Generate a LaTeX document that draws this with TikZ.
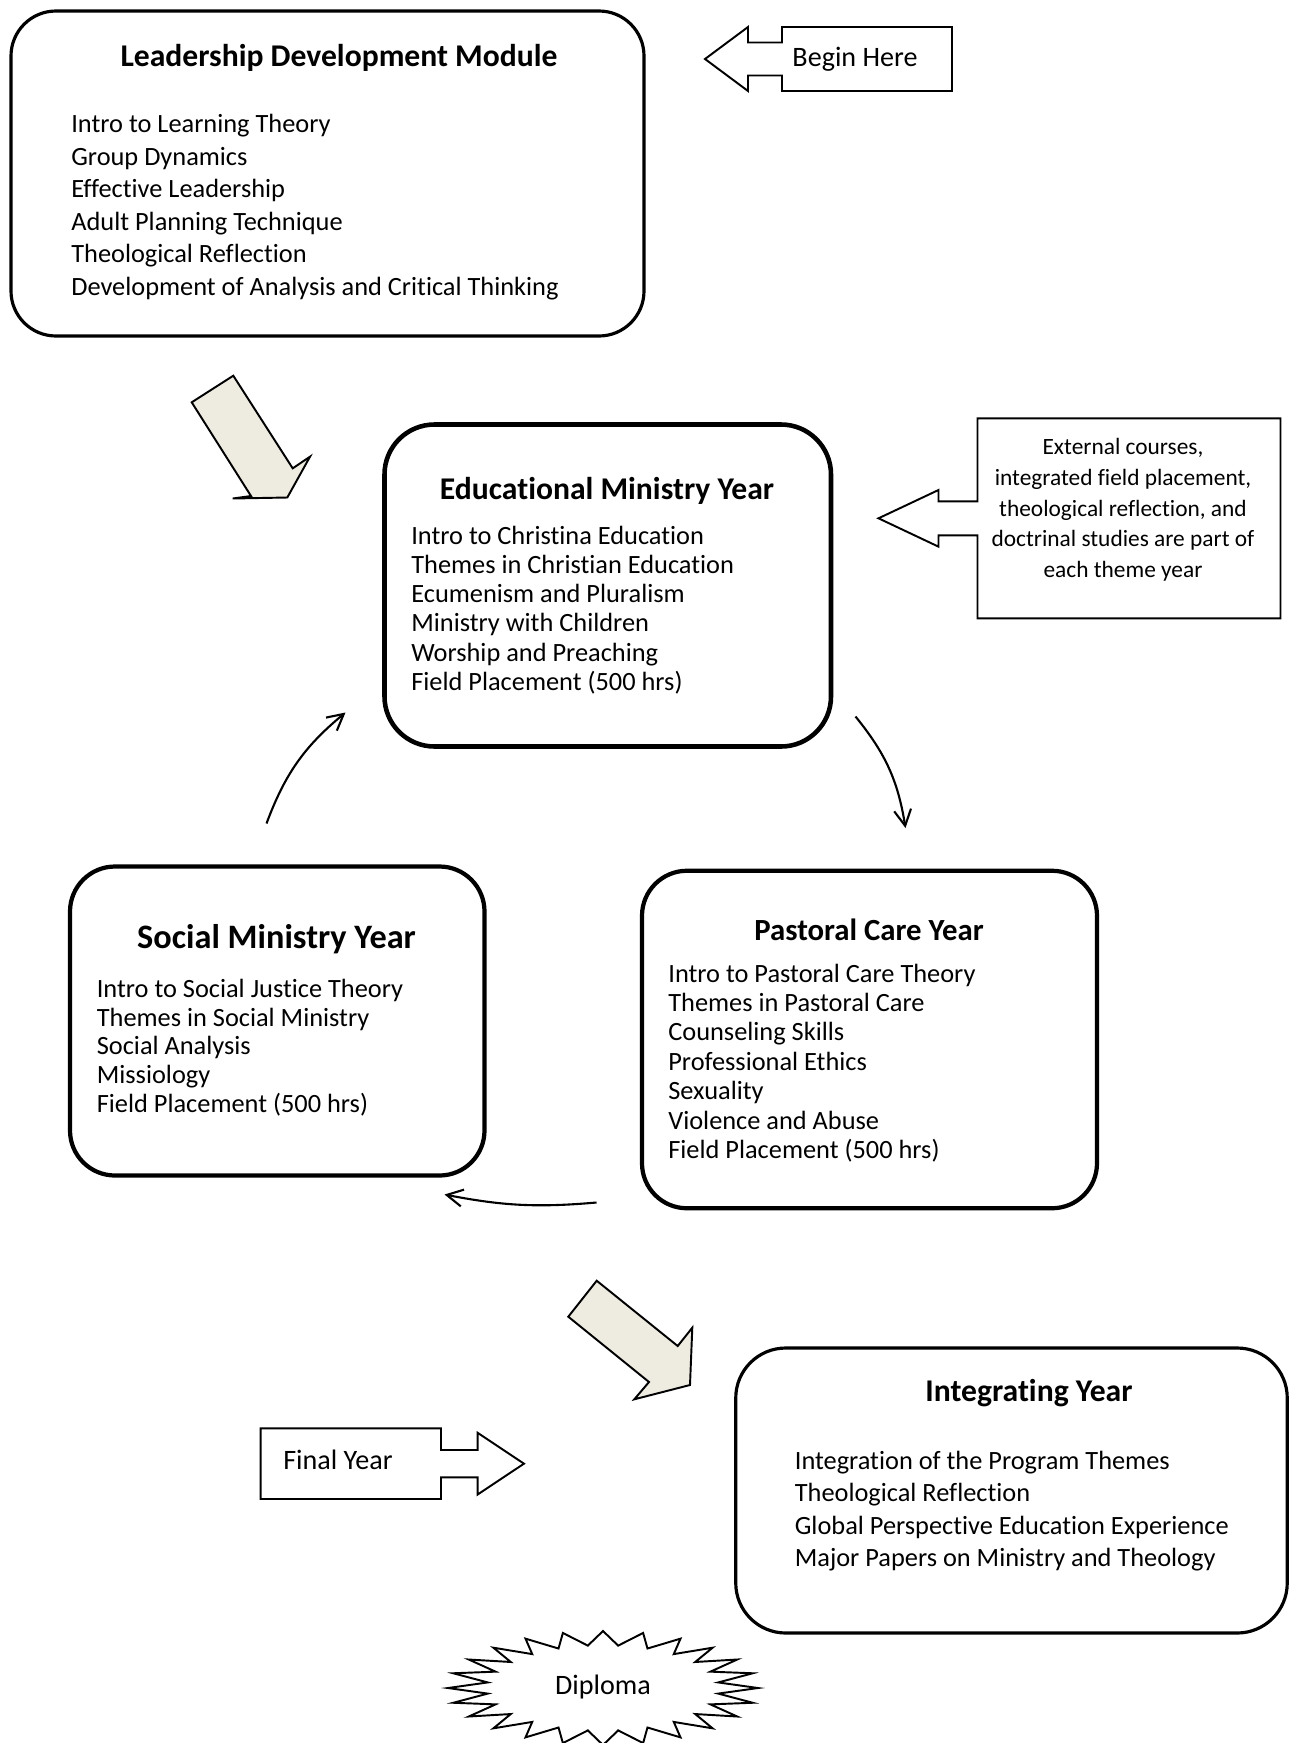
\documentclass[tikz,border=0pt]{standalone}
\usepackage{fontspec}
\setmainfont{Carlito}[Ligatures=NoCommon, RawFeature={-calt;-clig}]
\usetikzlibrary{arrows.meta}
\definecolor{ArrowFill}{RGB}{238,236,225}

\begin{document}
\begin{tikzpicture}[
    yearbox/.style={draw, line width=2.4pt, rounded corners=0.9cm},
    boxtitle/.style={font=\fontsize{18}{21}\selectfont\bfseries},
    courselist/.style={anchor=west, align=left, inner sep=0pt, font=\fontsize{15}{18.5}\selectfont},
    notetext/.style={align=center, inner sep=0pt, font=\fontsize{13.3}{17.5}\selectfont},
    labeltext/.style={font=\fontsize{16}{19}\selectfont},
    callout/.style={draw, line width=1.1pt, line join=miter},
    bigarrow/.style={draw, line width=1.1pt, fill=ArrowFill, line join=miter},
    turn/.style={-{Straight Barb[length=3.2mm, width=3.4mm]}, line width=1.2pt}
]
\useasboundingbox (0,0) rectangle (25.78,-34.86);

% Leadership module
\node[yearbox, line width=1.8pt, minimum width=12.66cm, minimum height=6.5cm] (lead) at (6.55,-3.47) {};
\node[boxtitle] (leadtitle) at (6.78,-1.16) {Leadership Development Module};
\node[courselist] (leadlist) at (1.42,-4.14) {Intro to Learning Theory\\Group Dynamics\\Effective Leadership\\Adult Planning Technique\\Theological Reflection\\Development of Analysis and Critical Thinking};

% Begin here
\draw[callout] (19.04,-0.54) -- (19.04,-1.82) -- (15.64,-1.82) -- (15.64,-1.51) -- (14.96,-1.51) -- (14.96,-1.82) -- (14.1,-1.18) -- (14.96,-0.54) -- (14.96,-0.85) -- (15.64,-0.85) -- (15.64,-0.54) -- cycle;
\node[labeltext] (begin) at (17.1,-1.18) {Begin Here};

% Block arrow into the cycle
\draw[bigarrow] (4.666,-7.514) -- (5.854,-9.366) -- (6.2,-9.134) -- (5.746,-9.95) -- (4.654,-9.97) -- (5.02,-9.92) -- (3.834,-8.046) -- cycle;

% Educational ministry year
\node[yearbox, line width=2.6pt, rounded corners=1cm, minimum width=8.93cm, minimum height=6.44cm] (edu) at (12.155,-11.71) {};
\node[boxtitle] (edutitle) at (12.14,-9.82) {Educational Ministry Year};
\node[courselist, font=\fontsize{15}{16.6}\selectfont] (edulist) at (8.22,-12.2) {Intro to Christina Education\\Themes in Christian Education\\Ecumenism and Pluralism\\Ministry with Children\\Worship and Preaching\\Field Placement (500 hrs)};

% External courses note
\draw[callout] (19.55,-8.366) -- (25.61,-8.366) -- (25.61,-12.366) -- (19.55,-12.366) -- (19.55,-10.706) -- (18.77,-10.706) -- (18.77,-10.933) -- (17.57,-10.366) -- (18.77,-9.8) -- (18.77,-10.026) -- (19.55,-10.026) -- cycle;
\node[notetext] (ext) at (22.46,-10.2) {External courses,\\integrated field placement,\\theological reflection, and\\doctrinal studies are part of\\each theme year};

% Pastoral care year
\node[yearbox, minimum width=9.1cm, minimum height=6.75cm] (pastoral) at (17.39,-20.79) {};
\node[boxtitle, font=\fontsize{17.5}{21}\selectfont\bfseries] (pasttitle) at (17.38,-18.6) {Pastoral Care Year};
\node[courselist, font=\fontsize{15}{16.7}\selectfont] (pastlist) at (13.36,-21.26) {Intro to Pastoral Care Theory\\Themes in Pastoral Care\\Counseling Skills\\Professional Ethics\\Sexuality\\Violence and Abuse\\Field Placement (500 hrs)};

% Social ministry year
\node[yearbox, minimum width=8.29cm, minimum height=6.18cm] (social) at (5.545,-20.42) {};
\node[boxtitle, font=\fontsize{19.5}{23}\selectfont\bfseries] (soctitle) at (5.53,-18.78) {Social Ministry Year};
\node[courselist, font=\fontsize{15}{16.4}\selectfont] (soclist) at (1.93,-20.95) {Intro to Social Justice Theory\\Themes in Social Ministry\\Social Analysis\\Missiology\\Field Placement (500 hrs)};

% Cycle connectors
\coordinate (eduout) at (17.11,-14.33);
\coordinate (pastin) at (18.11,-16.56);
\coordinate (pastout) at (11.93,-24.05);
\coordinate (socin) at (8.89,-23.89);
\coordinate (socout) at (5.33,-16.47);
\coordinate (eduin) at (6.91,-14.25);
\draw[turn] (eduout) to[bend left=15] (pastin);
\draw[turn] (pastout) to[bend left=8] (socin);
\draw[turn] (socout) to[bend left=15] (eduin);

% Block arrow out of the cycle
\draw[bigarrow] (11.934,-25.614) -- (13.554,-26.92) -- (13.846,-26.554) -- (13.8,-27.7) -- (12.686,-27.986) -- (12.98,-27.64) -- (11.366,-26.334) -- cycle;

% Final year
\draw[callout] (5.214,-28.566) -- (8.82,-28.566) -- (8.82,-29.0) -- (9.554,-29.0) -- (9.554,-28.657) -- (10.48,-29.273) -- (9.554,-29.889) -- (9.554,-29.546) -- (8.82,-29.546) -- (8.82,-29.98) -- (5.214,-29.98) -- cycle;
\node[labeltext] (final) at (6.76,-29.2) {Final Year};

% Integrating year
\node[yearbox, line width=1.8pt, rounded corners=1cm, minimum width=11.03cm, minimum height=5.7cm] (integ) at (20.23,-29.81) {};
\node[boxtitle] (integtitle) at (20.58,-27.86) {Integrating Year};
\node[courselist] (integlist) at (15.89,-30.22) {Integration of the Program Themes\\Theological Reflection\\Global Perspective Education Experience\\Major Papers on Ministry and Theology};

% Diploma
\draw[line width=1.1pt, line join=miter] plot[domain=0:47, samples=48, variable=\k] ({12.06+3.1*ifthenelse(mod(\k,2)==0,1,0.75)*cos(\k*7.5)}, {-33.76+1.14*ifthenelse(mod(\k,2)==0,1,0.75)*sin(\k*7.5)}) -- cycle;
\node[labeltext] (diploma) at (12.06,-33.74) {Diploma};
\end{tikzpicture}
\end{document}
